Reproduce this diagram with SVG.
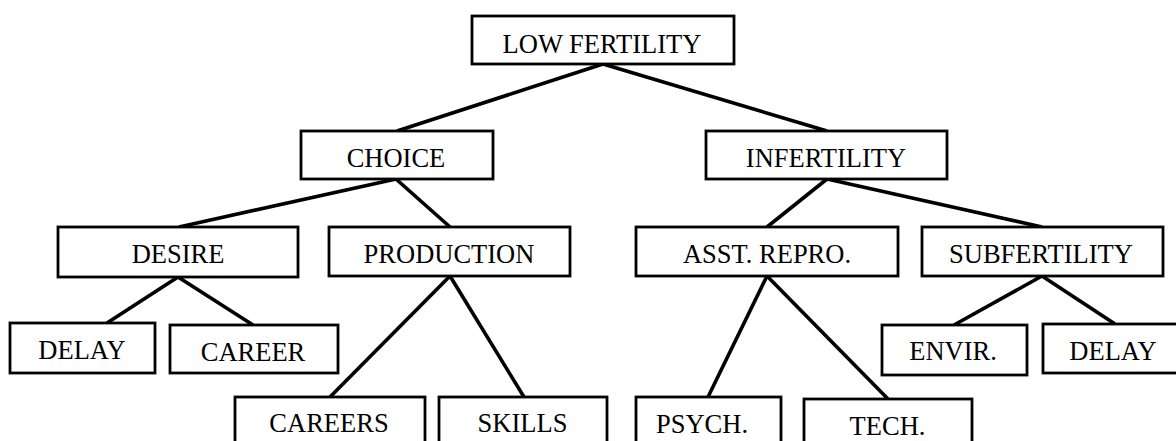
<svg xmlns="http://www.w3.org/2000/svg" width="1176" height="441" viewBox="0 0 1176 441">
<style>
.box{fill:#fff;stroke:#000;stroke-width:2.8}
.lbl{font-family:"Liberation Serif","Times New Roman",serif;font-size:26.5px;fill:#000;text-anchor:middle}
.edge{stroke:#000;stroke-width:3.6;stroke-linecap:butt;fill:none}
</style>
<rect width="1176" height="441" fill="#fff"/>
<g id="connectors">
<line class="edge" x1="603" y1="64" x2="397" y2="131"/>
<line class="edge" x1="603" y1="64" x2="827" y2="131"/>
<line class="edge" x1="396" y1="179" x2="179" y2="227"/>
<line class="edge" x1="396" y1="179" x2="450" y2="227"/>
<line class="edge" x1="827" y1="179" x2="767" y2="227"/>
<line class="edge" x1="827" y1="179" x2="1042" y2="227"/>
<line class="edge" x1="178" y1="277" x2="107" y2="323"/>
<line class="edge" x1="178" y1="277" x2="253" y2="325"/>
<line class="edge" x1="450" y1="276" x2="330" y2="397"/>
<line class="edge" x1="450" y1="276" x2="524" y2="397"/>
<line class="edge" x1="767" y1="276" x2="708" y2="397"/>
<line class="edge" x1="767" y1="276" x2="888" y2="399"/>
<line class="edge" x1="1042" y1="276" x2="954" y2="325"/>
<line class="edge" x1="1042" y1="276" x2="1115" y2="324"/>
</g>
<g id="low-fertility"><rect class="box" x="472" y="16" width="262" height="48"/><text class="lbl" x="602" y="52.5">LOW FERTILITY</text></g>
<g id="choice"><rect class="box" x="301" y="131" width="192" height="48"/><text class="lbl" x="396" y="167">CHOICE</text></g>
<g id="infertility"><rect class="box" x="706" y="131" width="241" height="48"/><text class="lbl" x="826" y="167">INFERTILITY</text></g>
<g id="desire"><rect class="box" x="58" y="227" width="240" height="50"/><text class="lbl" x="178" y="263">DESIRE</text></g>
<g id="production"><rect class="box" x="329" y="227" width="241" height="49"/><text class="lbl" x="449" y="263">PRODUCTION</text></g>
<g id="asst-repro"><rect class="box" x="636" y="227" width="262" height="49"/><text class="lbl" x="767" y="263">ASST. REPRO.</text></g>
<g id="subfertility"><rect class="box" x="922" y="227" width="241" height="49"/><text class="lbl" x="1041" y="263">SUBFERTILITY</text></g>
<g id="delay-left"><rect class="box" x="10" y="323" width="145" height="50"/><text class="lbl" x="82" y="359">DELAY</text></g>
<g id="career"><rect class="box" x="170" y="325" width="168" height="48"/><text class="lbl" x="253" y="361">CAREER</text></g>
<g id="envir"><rect class="box" x="882" y="325" width="145" height="50"/><text class="lbl" x="953" y="360">ENVIR.</text></g>
<g id="delay-right"><rect class="box" x="1043" y="324" width="140" height="49"/><text class="lbl" x="1113" y="360">DELAY</text></g>
<g id="careers"><rect class="box" x="235" y="397" width="190" height="60"/><text class="lbl" x="329" y="432">CAREERS</text></g>
<g id="skills"><rect class="box" x="439" y="397" width="168" height="60"/><text class="lbl" x="522.5" y="432">SKILLS</text></g>
<g id="psych"><rect class="box" x="636" y="397" width="145" height="60"/><text class="lbl" x="702" y="433">PSYCH.</text></g>
<g id="tech"><rect class="box" x="804" y="399" width="168" height="60"/><text class="lbl" x="887.5" y="435">TECH.</text></g>
</svg>
